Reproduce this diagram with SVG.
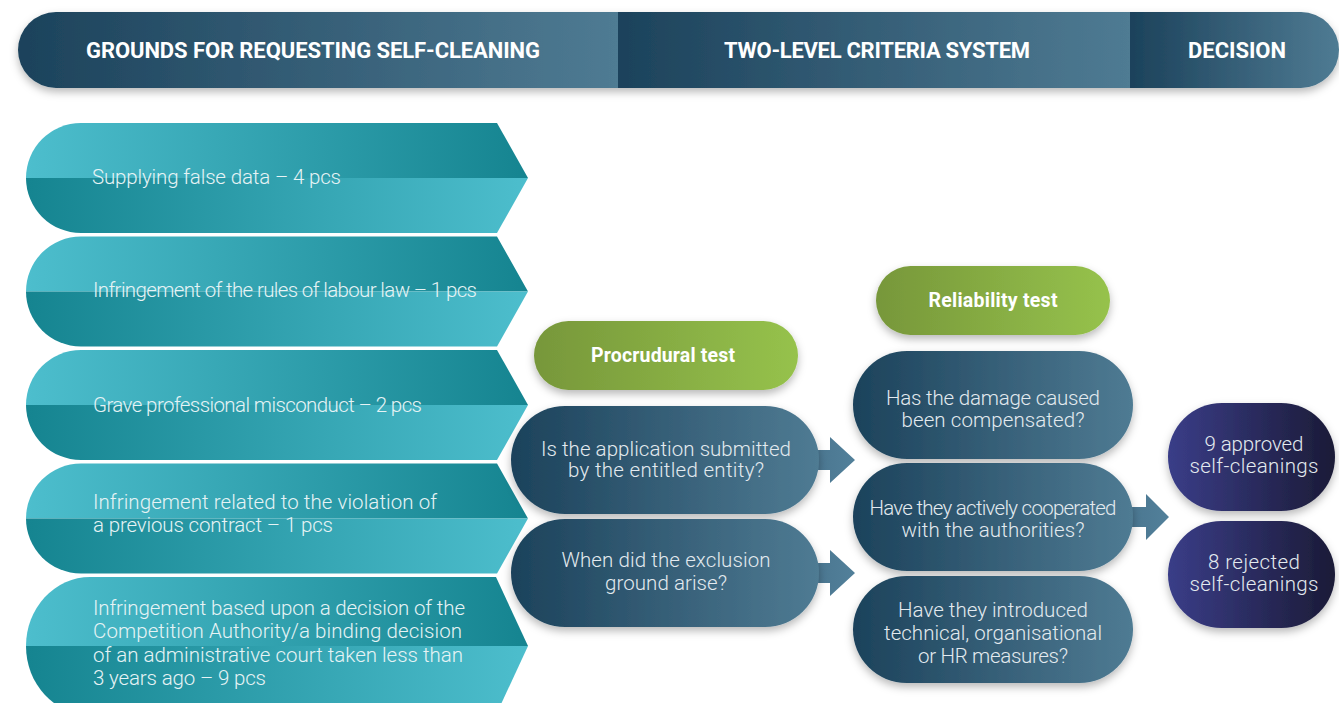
<svg xmlns="http://www.w3.org/2000/svg" width="1339" height="703" viewBox="0 0 1339 703">
<defs>
<linearGradient id="gBlue" x1="0" y1="0" x2="1" y2="0"><stop offset="0" stop-color="#1c425b"/><stop offset="1" stop-color="#4f7b93"/></linearGradient>
<linearGradient id="gGreen" x1="0" y1="0" x2="1" y2="0"><stop offset="0" stop-color="#77973a"/><stop offset="1" stop-color="#96c24c"/></linearGradient>
<linearGradient id="gPurple" x1="0" y1="0" x2="1" y2="0"><stop offset="0" stop-color="#3a3d88"/><stop offset="1" stop-color="#1b1b37"/></linearGradient>
<linearGradient id="gTealTop" x1="0" y1="0" x2="1" y2="0"><stop offset="0" stop-color="#4dbecd"/><stop offset="1" stop-color="#158490"/></linearGradient>
<linearGradient id="gTealBot" x1="0" y1="0" x2="1" y2="0"><stop offset="0" stop-color="#158490"/><stop offset="1" stop-color="#4dbecd"/></linearGradient>
<linearGradient id="gArrow" x1="0" y1="0" x2="1" y2="0"><stop offset="0" stop-color="#4a7690"/><stop offset="1" stop-color="#52809a"/></linearGradient>
<filter id="sh" x="-10%" y="-20%" width="120%" height="150%"><feDropShadow dx="0" dy="4" stdDeviation="4" flood-color="#000" flood-opacity="0.28"/></filter>
</defs>
<style>
.hd{font-family:Roboto,"Liberation Sans",sans-serif;font-weight:700;font-size:22px;fill:#ffffff;text-anchor:middle}
.lt{font-family:Roboto,"Liberation Sans",sans-serif;font-weight:300;font-size:20.5px;fill:#e6f3f5}
.pt{font-family:Roboto,"Liberation Sans",sans-serif;font-weight:300;font-size:20.5px;fill:#e3eaef;text-anchor:middle}
.gt{font-family:Roboto,"Liberation Sans",sans-serif;font-weight:700;font-size:19.5px;fill:#ffffff;text-anchor:middle}
</style>
<rect width="1339" height="703" fill="#ffffff"/>

<g id="header" filter="url(#sh)">
<path d="M56,12 H618 V88 H56 A38,38 0 0 1 56,12 Z" fill="url(#gBlue)"/>
<rect x="618" y="12" width="512" height="76" fill="url(#gBlue)"/>
<path d="M1130,12 H1301 A38,38 0 0 1 1301,88 H1130 Z" fill="url(#gBlue)"/>
</g>
<g id="header-text">
<text class="hd" x="313" y="58" textLength="454" lengthAdjust="spacing">GROUNDS FOR REQUESTING SELF-CLEANING</text>
<text class="hd" x="877" y="58" textLength="306" lengthAdjust="spacing">TWO-LEVEL CRITERIA SYSTEM</text>
<text class="hd" x="1237" y="58" textLength="98" lengthAdjust="spacing">DECISION</text>
</g>

<g id="ground1">
<path d="M81,123 H497 L528,178 H26 A55,55 0 0 1 81,123 Z" fill="url(#gTealTop)"/>
<path d="M26,178 H528 L497,233 H81 A55,55 0 0 1 26,178 Z" fill="url(#gTealBot)"/>
<text class="lt" x="92" y="183.5" textLength="249" lengthAdjust="spacing">Supplying false data – 4 pcs</text>
</g>
<g id="ground2">
<path d="M81,236.5 H497 L528,291.5 H26 A55,55 0 0 1 81,236.5 Z" fill="url(#gTealTop)"/>
<path d="M26,291.5 H528 L497,346.5 H81 A55,55 0 0 1 26,291.5 Z" fill="url(#gTealBot)"/>
<text class="lt" x="93" y="297" textLength="384" lengthAdjust="spacing">Infringement of the rules of labour law – 1 pcs</text>
</g>
<g id="ground3">
<path d="M81,350 H497 L528,405 H26 A55,55 0 0 1 81,350 Z" fill="url(#gTealTop)"/>
<path d="M26,405 H528 L497,460 H81 A55,55 0 0 1 26,405 Z" fill="url(#gTealBot)"/>
<text class="lt" x="93" y="412" textLength="329" lengthAdjust="spacing">Grave professional misconduct – 2 pcs</text>
</g>
<g id="ground4">
<path d="M81,463.5 H497 L528,518.5 H26 A55,55 0 0 1 81,463.5 Z" fill="url(#gTealTop)"/>
<path d="M26,518.5 H528 L497,573.5 H81 A55,55 0 0 1 26,518.5 Z" fill="url(#gTealBot)"/>
<text class="lt" x="93" y="509" textLength="344" lengthAdjust="spacing">Infringement related to the violation of</text>
<text class="lt" x="93" y="532" textLength="240" lengthAdjust="spacing">a previous contract – 1 pcs</text>
</g>
<g id="ground5">
<path d="M90,577 H496 L528,646 H26 A64,69 0 0 1 90,577 Z" fill="url(#gTealTop)"/>
<path d="M26,646 H528 L496,715 H90 A64,69 0 0 1 26,646 Z" fill="url(#gTealBot)"/>
<text class="lt" x="93" y="615" textLength="372" lengthAdjust="spacing">Infringement based upon a decision of the</text>
<text class="lt" x="93" y="638" textLength="369" lengthAdjust="spacing">Competition Authority/a binding decision</text>
<text class="lt" x="93" y="662" textLength="370" lengthAdjust="spacing">of an administrative court taken less than</text>
<text class="lt" x="93" y="685" textLength="173" lengthAdjust="spacing">3 years ago – 9 pcs</text>
</g>

<g id="connectors">
<path d="M812,450 H830 V437 L855,460 L830,483 V470 H812 Z" fill="url(#gArrow)"/>
<path d="M812,563 H830 V550 L855,573 L830,596 V583 H812 Z" fill="url(#gArrow)"/>
<path d="M1126,507 H1146 V494 L1169,517 L1146,540 V527 H1126 Z" fill="url(#gArrow)"/>
</g>

<g id="procedural-test">
<rect x="534" y="321" width="264" height="69" rx="34.5" fill="url(#gGreen)" filter="url(#sh)"/>
<text class="gt" x="663" y="362" textLength="144" lengthAdjust="spacing">Procrudural test</text>
</g>
<g id="q-entitled">
<rect x="511" y="406" width="308" height="108" rx="54" fill="url(#gBlue)" filter="url(#sh)"/>
<text class="pt" x="666" y="455.5" textLength="250" lengthAdjust="spacing">Is the application submitted</text>
<text class="pt" x="666" y="477" textLength="196" lengthAdjust="spacing">by the entitled entity?</text>
</g>
<g id="q-exclusion">
<rect x="511" y="519" width="308" height="108" rx="54" fill="url(#gBlue)" filter="url(#sh)"/>
<text class="pt" x="666" y="567" textLength="209" lengthAdjust="spacing">When did the exclusion</text>
<text class="pt" x="666" y="590" textLength="122" lengthAdjust="spacing">ground arise?</text>
</g>

<g id="reliability-test">
<rect x="876" y="266" width="234" height="69" rx="34.5" fill="url(#gGreen)" filter="url(#sh)"/>
<text class="gt" x="993" y="307" textLength="129" lengthAdjust="spacing">Reliability test</text>
</g>
<g id="q-damage">
<rect x="853" y="351" width="280" height="108" rx="54" fill="url(#gBlue)" filter="url(#sh)"/>
<text class="pt" x="993" y="405" textLength="214" lengthAdjust="spacing">Has the damage caused</text>
<text class="pt" x="993" y="427" textLength="183" lengthAdjust="spacing">been compensated?</text>
</g>
<g id="q-cooperated">
<rect x="853" y="463" width="280" height="108" rx="54" fill="url(#gBlue)" filter="url(#sh)"/>
<text class="pt" x="993" y="515" textLength="247" lengthAdjust="spacing">Have they actively cooperated</text>
<text class="pt" x="993" y="537" textLength="183" lengthAdjust="spacing">with the authorities?</text>
</g>
<g id="q-measures">
<rect x="853" y="576" width="280" height="107" rx="53.5" fill="url(#gBlue)" filter="url(#sh)"/>
<text class="pt" x="993" y="617" textLength="190" lengthAdjust="spacing">Have they introduced</text>
<text class="pt" x="993" y="640" textLength="218" lengthAdjust="spacing">technical, organisational</text>
<text class="pt" x="993" y="663" textLength="150" lengthAdjust="spacing">or HR measures?</text>
</g>

<g id="approved">
<rect x="1168" y="403" width="167" height="108" rx="54" fill="url(#gPurple)" filter="url(#sh)"/>
<text class="pt" x="1254" y="451" textLength="99" lengthAdjust="spacing">9 approved</text>
<text class="pt" x="1254" y="473" textLength="129" lengthAdjust="spacing">self-cleanings</text>
</g>
<g id="rejected">
<rect x="1168" y="521" width="167" height="107" rx="53.5" fill="url(#gPurple)" filter="url(#sh)"/>
<text class="pt" x="1254" y="569" textLength="92" lengthAdjust="spacing">8 rejected</text>
<text class="pt" x="1254" y="591" textLength="129" lengthAdjust="spacing">self-cleanings</text>
</g>
</svg>
